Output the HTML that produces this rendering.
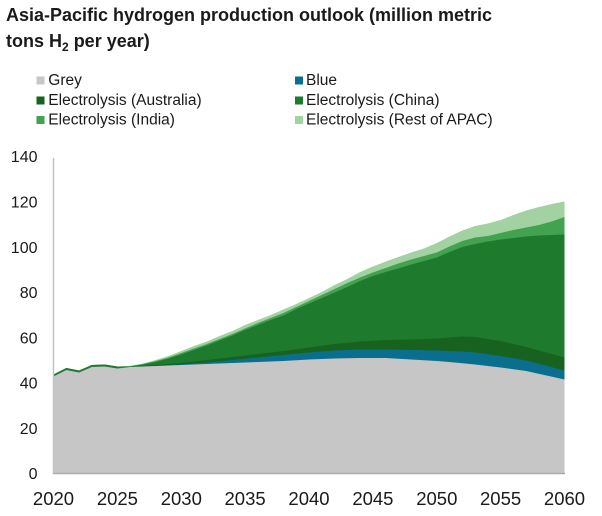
<!DOCTYPE html>
<html>
<head>
<meta charset="utf-8">
<style>
  html,body{margin:0;padding:0;background:#fff;}
  body{width:602px;height:516px;overflow:hidden;}
  svg{display:block;}
  text{font-family:"Liberation Sans",Arial,sans-serif;fill:#1a1a1a;}
</style>
</head>
<body>
<svg width="602" height="516" viewBox="0 0 602 516" xmlns="http://www.w3.org/2000/svg">
  <!-- Title -->
  <text x="6" y="21" font-size="18" font-weight="bold">Asia-Pacific hydrogen production outlook (million metric</text>
  <text x="6" y="47" font-size="18" font-weight="bold">tons H<tspan font-size="12" dy="4">2</tspan><tspan dy="-4"> per year)</tspan></text>

  <!-- Legend -->
  <rect x="36.5" y="76.5" width="8" height="8" fill="#c8c8c8"/>
  <text x="48.3" y="85" font-size="15.5">Grey</text>
  <rect x="295" y="76.5" width="8" height="8" fill="#0a6f8f"/>
  <text x="306" y="85" font-size="15.5">Blue</text>

  <rect x="36.5" y="96.5" width="8" height="8" fill="#17621f"/>
  <text x="48.3" y="105" font-size="15.5">Electrolysis (Australia)</text>
  <rect x="295" y="96.5" width="8" height="8" fill="#1e7a2d"/>
  <text x="306" y="105" font-size="15.5">Electrolysis (China)</text>

  <rect x="36.5" y="116" width="8" height="8" fill="#42a24f"/>
  <text x="48.3" y="124.5" font-size="15.5">Electrolysis (India)</text>
  <rect x="295" y="116" width="8" height="8" fill="#a2d1a2"/>
  <text x="306" y="124.5" font-size="15.5">Electrolysis (Rest of APAC)</text>

  <!-- Y tick labels -->
  <g font-size="16" text-anchor="end">
    <text x="37.5" y="162.2">140</text>
    <text x="37.5" y="207.5">120</text>
    <text x="37.5" y="252.8">100</text>
    <text x="37.5" y="298.1">80</text>
    <text x="37.5" y="343.4">60</text>
    <text x="37.5" y="388.7">40</text>
    <text x="37.5" y="433.9">20</text>
    <text x="37.5" y="479.2">0</text>
  </g>

  <!-- X tick labels -->
  <g font-size="18.5" text-anchor="middle">
    <text x="53.5" y="505">2020</text>
    <text x="117.4" y="505">2025</text>
    <text x="181.3" y="505">2030</text>
    <text x="245.1" y="505">2035</text>
    <text x="309.0" y="505">2040</text>
    <text x="372.9" y="505">2045</text>
    <text x="436.8" y="505">2050</text>
    <text x="500.6" y="505">2055</text>
    <text x="564.5" y="505">2060</text>
  </g>

  <!-- Rest of APAC (total) -->
  <polygon fill="#a2d1a2" points="53.5,374.5 66.3,368 79.1,370.5 91.8,365 104.6,364.5 117.4,366.5 130.2,365.8 142.9,363.5 155.7,360 168.5,356 181.3,351 194.0,346 206.8,341.5 219.6,336 232.4,331 245.1,325 257.9,320 270.7,315 283.5,309.5 296.2,304 309.0,298 321.8,292 334.6,285 347.3,279 360.1,272 372.9,266.5 385.7,261.5 398.4,257 411.2,252.5 424.0,248.5 436.8,243 449.5,236.5 462.3,230.5 475.1,226 487.9,223.5 500.6,220 513.4,215 526.2,210.5 539.0,207 551.7,204 564.5,201.5 564.5,473.5 53.5,473.5"/>
  <!-- India -->
  <polygon fill="#42a24f" points="53.5,374.5 66.3,368 79.1,370.5 91.8,365 104.6,364.5 117.4,366.5 130.2,366.3 142.9,364 155.7,361 168.5,357.5 181.3,353 194.0,348.5 206.8,344 219.6,339 232.4,334 245.1,328.5 257.9,323 270.7,318 283.5,313 296.2,307 309.0,301 321.8,295 334.6,289 347.3,283 360.1,277.5 372.9,272.5 385.7,268 398.4,263.5 411.2,259.5 424.0,256 436.8,252.5 449.5,246.5 462.3,241 475.1,237.5 487.9,236 500.6,233 513.4,230 526.2,227.5 539.0,225 551.7,221.5 564.5,217 564.5,473.5 53.5,473.5"/>
  <!-- China -->
  <polygon fill="#1e7a2d" points="53.5,374.5 66.3,368 79.1,370.5 91.8,365 104.6,364.5 117.4,366.5 130.2,366.5 142.9,364.5 155.7,362 168.5,358.5 181.3,354.5 194.0,350 206.8,345.5 219.6,340.5 232.4,335.5 245.1,330 257.9,325 270.7,320 283.5,315.5 296.2,309 309.0,303.5 321.8,298 334.6,292.5 347.3,287 360.1,281 372.9,276 385.7,272 398.4,268.5 411.2,264.5 424.0,261 436.8,257.5 449.5,252 462.3,247 475.1,244 487.9,241.5 500.6,239.5 513.4,238 526.2,236.5 539.0,235.5 551.7,235 564.5,234.5 564.5,473.5 53.5,473.5"/>
  <!-- Australia -->
  <polygon fill="#17621f" points="53.5,376.5 66.3,370 79.1,372.5 91.8,367 104.6,366.5 117.4,368.5 130.2,367 142.9,366 155.7,365 168.5,364 181.3,363 206.8,360 232.4,357 257.9,354 283.5,351 309.0,347.5 334.6,344 360.1,341.5 385.7,340 411.2,339.5 436.8,338.5 462.3,336.5 475.1,337 500.6,341 526.2,347 564.5,357.5 564.5,473.5 53.5,473.5"/>
  <!-- Blue -->
  <polygon fill="#0a6f8f" points="53.5,376.5 66.3,370 79.1,372.5 91.8,367 104.6,366.5 117.4,368.5 130.2,367 142.9,366.5 155.7,366 168.5,365 181.3,364.5 206.8,362.5 232.4,360 257.9,357.5 283.5,355 309.0,352.5 334.6,350.5 360.1,349.5 385.7,349.5 411.2,350 436.8,350.5 462.3,351.5 475.1,352.5 500.6,356 526.2,360.5 564.5,370.5 564.5,473.5 53.5,473.5"/>
  <!-- Grey -->
  <polygon fill="#c6c6c6" points="53.5,376.5 66.3,370 79.1,372.5 91.8,367 104.6,366.5 117.4,368.5 130.2,367 142.9,366.5 155.7,366 168.5,365.5 181.3,365 206.8,364 232.4,363 257.9,362 283.5,361 309.0,359.5 334.6,358.5 360.1,358 385.7,358 411.2,359.5 436.8,361 449.5,362 475.1,364.5 500.6,367.5 526.2,371 564.5,379.5 564.5,473.5 53.5,473.5"/>

  <!-- Axes -->
  <line x1="53.5" y1="158" x2="53.5" y2="474" stroke="#c2c2c2" stroke-width="1.5"/>
  <line x1="53" y1="473.5" x2="565" y2="473.5" stroke="#ababab" stroke-width="1.5"/>
</svg>
</body>
</html>
